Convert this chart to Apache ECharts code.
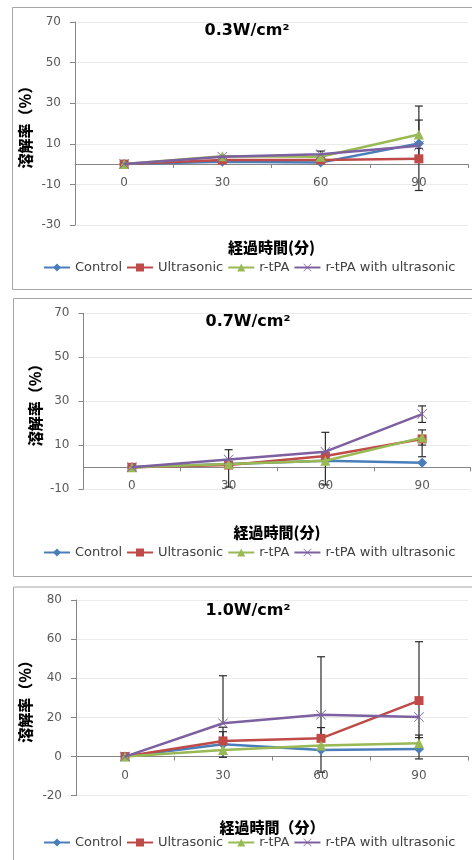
<!DOCTYPE html>
<html>
<head>
<meta charset="utf-8">
<script src="https://cdn.jsdelivr.net/npm/echarts@6/dist/echarts.min.js"></script>
<style>
html,body{margin:0;padding:0;background:#fff;}
#chart{width:472px;height:860px;}
</style>
</head>
<body>
<div id="chart"></div>
<script>
// ---- data ----
const categories = ['0', '30', '60', '90'];
const seriesNames = ['Control', 'Ultrasonic', 'r-tPA', 'r-tPA with ultrasonic'];

// 0.3 W/cm2
const p1Control = [0, 1.1, 0.8, 10.2];
const p1Ultra   = [0, 2.0, 2.0, 2.6];
const p1rtPA    = [0, 3.9, 3.6, 14.6];
const p1Combo   = [0, 3.6, 4.9, 9.0];
const p1Err = [[2, 4.9, 6.4], [3, 14.6, 28.6], [3, 10.2, 21.7], [3, 2.6, 7.7], [3, 9.0, -13]];

// 0.7 W/cm2
const p2Control = [0, 1.5, 3.0, 2.1];
const p2Ultra   = [0, 1.0, 5.1, 12.9];
const p2rtPA    = [0, 1.5, 3.0, 13.5];
const p2Combo   = [0, 3.6, 7.1, 24.2];
const p2Err = [[1, 3.6, 8.0], [1, 1.0, -9], [2, 7.1, 15.9], [2, 3.0, -8],
               [3, 24.2, 27.9], [3, 24.2, 20.4], [3, 13.5, 17.0], [3, 13.5, 10.1], [3, 12.9, 4.8]];

// 1.0 W/cm2
const p3Control = [0, 6.3, 3.4, 3.9];
const p3Ultra   = [0, 8.0, 9.3, 28.6];
const p3rtPA    = [0, 3.4, 5.6, 6.8];
const p3Combo   = [0, 17.0, 21.4, 20.2];
const p3Err = [[1, 17.0, 41.3], [1, 6.3, 15.0], [1, 8.0, 12.7], [1, 3.4, -0.4],
               [2, 21.4, 51.0], [2, 9.3, 14.8], [2, 21.4, -8],
               [3, 28.6, 58.7], [3, 28.6, -1.2], [3, 6.8, 11.0], [3, 3.9, 9.7]];

const yTicks1 = [-30, -10, 10, 30, 50, 70];
const yTicks2 = [-10, 10, 30, 50, 70];
const yTicks3 = [-20, 0, 20, 40, 60, 80];

const titles = ['0.3W/cm²', '0.7W/cm²', '1.0W/cm²'];
const xNames = ['経過時間(分)', '経過時間(分)', '経過時間（分）'];
const yName = '溶解率（%）';

// ---- layout / style ----
const panels = [
  { data: [p1Control, p1Ultra, p1rtPA, p1Combo], err: p1Err, ticks: yTicks1,
    grid: { left: 75, top: 22, width: 393, height: 203 }, xGap: 14.5, yGap: 42,
    titleX: 247, titleY: 31, legendTop: 261, box: [12, 7, 470, 282] },
  { data: [p2Control, p2Ultra, p2rtPA, p2Combo], err: p2Err, ticks: yTicks2,
    grid: { left: 83.5, top: 313.3, width: 387, height: 176 }, xGap: 35, yGap: 41,
    titleX: 248, titleY: 322, legendTop: 546, box: [13, 298, 470, 278] },
  { data: [p3Control, p3Ultra, p3rtPA, p3Combo], err: p3Err, ticks: yTicks3,
    grid: { left: 76, top: 600, width: 392, height: 195.7 }, xGap: 24, yGap: 43,
    titleX: 248, titleY: 611, legendTop: 836, box: [13, 586.5, 470, 300] }
];

const colors = ['#4A7EBB', '#BE4B48', '#98B954', '#7D60A0'];
const symbols = ['diamond', 'rect', 'triangle',
  'path://M1,0L10,9L19,0L20,1L11,10L20,19L19,20L10,11L1,20L0,19L9,10L0,1Z'];
const symbolSizes = [10, 9, 10, 10];

const tickFont = { color: '#595959', fontFamily: 'DejaVu Sans', fontSize: 12 };
const nameFont = { color: '#000', fontFamily: 'Noto Sans CJK JP', fontSize: 15, fontWeight: 900 };

const option = { animation: false, grid: [], xAxis: [], yAxis: [], series: [], legend: [], graphic: [] };

panels.forEach((p, i) => {
  const yMin = p.ticks[0], yMax = p.ticks[p.ticks.length - 1];
  // distance from the zero line to the bottom of the plot area (labels follow the zero line)
  const zeroToBottom = p.grid.height * (0 - yMin) / (yMax - yMin);
  option.graphic.push({
    type: 'rect', silent: true, z: -10,
    shape: { x: p.box[0] + 0.5, y: p.box[1] + 0.5, width: p.box[2], height: p.box[3] },
    style: { fill: '#fff', stroke: '#A6A6A6', lineWidth: 1 }
  });
  option.graphic.push({
    type: 'text', silent: true, z: 10,
    style: { text: titles[i], x: p.titleX, y: p.titleY, textAlign: 'center', textVerticalAlign: 'middle',
             font: 'bold 16px "DejaVu Sans"', fill: '#000' }
  });
  option.grid.push(Object.assign({ containLabel: false, outerBoundsMode: 'none' }, p.grid));
  option.xAxis.push({
    type: 'category', gridIndex: i, data: categories, boundaryGap: true,
    name: xNames[i], nameLocation: 'middle', nameGap: p.xGap, nameTextStyle: nameFont,
    nameMoveOverlap: false,
    axisLine: { onZero: true, lineStyle: { color: '#868686', width: 1 } },
    axisTick: { show: true, length: 4, inside: false, lineStyle: { color: '#868686' } },
    axisLabel: Object.assign({ margin: 13 - zeroToBottom, interval: 0, hideOverlap: false }, tickFont),
    splitLine: { show: false }
  });
  option.yAxis.push({
    type: 'value', gridIndex: i, min: yMin, max: yMax,
    name: yName, nameLocation: 'middle', nameRotate: 90, nameGap: p.yGap, nameTextStyle: nameFont,
    nameMoveOverlap: false,
    axisLine: { show: true, lineStyle: { color: '#868686', width: 1 } },
    axisTick: { show: true, length: 5, customValues: p.ticks, lineStyle: { color: '#868686' } },
    axisLabel: Object.assign({ margin: 14, customValues: p.ticks }, tickFont),
    splitLine: { show: true, lineStyle: { color: '#EBEBEB', width: 1 } }
  });
  option.series.push({
    type: 'custom', name: 'errorbars-' + i, xAxisIndex: i, yAxisIndex: i, z: 1, silent: true,
    data: p.err, encode: { x: 0, y: [1, 2] },
    renderItem: function (params, api) {
      const a = api.coord([api.value(0), api.value(1)]);
      const b = api.coord([api.value(0), api.value(2)]);
      const st = { stroke: '#2b2b2b', lineWidth: 1.2 };
      return { type: 'group', children: [
        { type: 'line', shape: { x1: a[0], y1: a[1], x2: b[0], y2: b[1] }, style: st },
        { type: 'line', shape: { x1: b[0] - 4, y1: b[1], x2: b[0] + 4, y2: b[1] }, style: st }
      ] };
    }
  });
  p.data.forEach((vals, k) => {
    option.series.push({
      type: 'line', name: seriesNames[k], xAxisIndex: i, yAxisIndex: i, z: 2 + k,
      data: vals, symbol: symbols[k], symbolSize: symbolSizes[k], showAllSymbol: true,
      lineStyle: { color: colors[k], width: 2.5 },
      itemStyle: { color: colors[k], borderWidth: 0 },
      emphasis: { disabled: true }
    });
  });
  option.legend.push({
    data: seriesNames, left: 43, top: p.legendTop, orient: 'horizontal',
    itemWidth: 26, itemHeight: 10, itemGap: 4, padding: 0,
    textStyle: { color: '#404040', fontFamily: 'DejaVu Sans', fontSize: 13 }
  });
});

const chart = echarts.init(document.getElementById('chart'), null, { renderer: 'canvas' });
chart.setOption(option);
</script>
</body>
</html>
